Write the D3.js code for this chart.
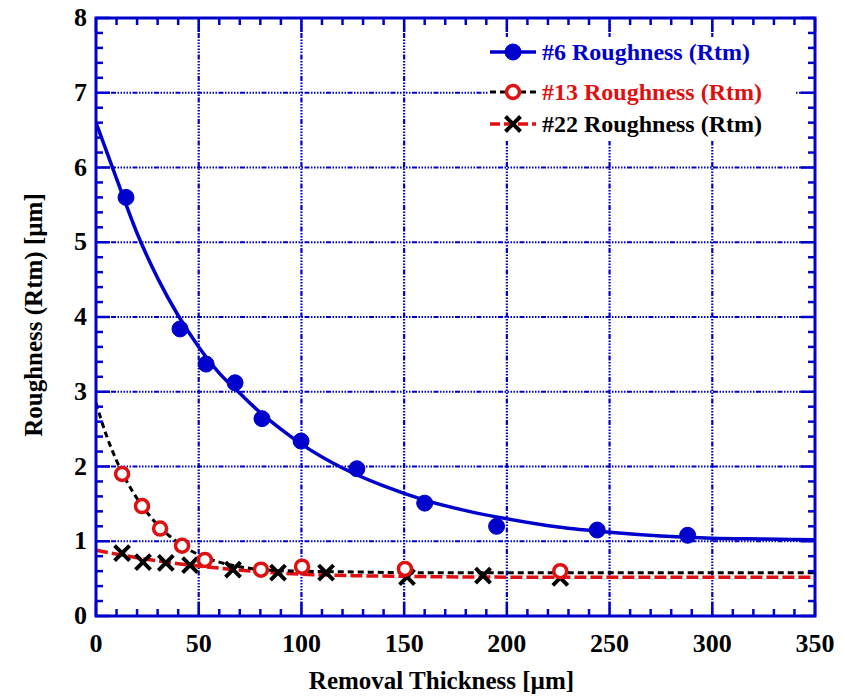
<!DOCTYPE html>
<html>
<head>
<meta charset="utf-8">
<script src="https://cdn.jsdelivr.net/npm/d3@7"></script>
<style>
  body { margin: 0; background: #fff; }
</style>
</head>
<body>
<svg id="chart" width="845" height="696"></svg>
<script>
// measured points
const s6X = [14.6, 40.9, 53.6, 67.7, 80.8, 99.8, 127, 160, 195, 244, 288];
const s6Y = [5.6, 3.84, 3.37, 3.12, 2.64, 2.34, 1.97, 1.51, 1.2, 1.15, 1.08];
const s13X = [12.7, 22.4, 31.2, 41.9, 53, 80.3, 100.3, 150.4, 226];
const s13Y = [1.9, 1.47, 1.17, 0.94, 0.75, 0.62, 0.66, 0.63, 0.6];
const s22X = [12.7, 22.9, 34, 45.8, 66.7, 88.6, 112, 151.4, 188.4, 226];
const s22Y = [0.84, 0.72, 0.71, 0.68, 0.62, 0.58, 0.58, 0.52, 0.54, 0.51];

// fitted curves
const fit6X = [0, 10, 20, 30, 40, 50, 60, 70, 80, 90, 100, 120, 140, 160, 180, 200, 225, 250, 275, 300, 325, 350];
const fit6Y = [6.6, 5.85, 5.12, 4.52, 4.02, 3.6, 3.25, 2.98, 2.72, 2.5, 2.3, 1.98, 1.74, 1.55, 1.41, 1.3, 1.19, 1.12, 1.07, 1.04, 1.03, 1.02];
const fit13X = [0, 5, 10, 15, 20, 25, 30, 35, 40, 45, 50, 60, 70, 80, 100, 125, 150, 200, 250, 300, 350];
const fit13Y = [2.85, 2.42, 2.08, 1.8, 1.57, 1.38, 1.22, 1.09, 0.98, 0.89, 0.82, 0.72, 0.66, 0.62, 0.6, 0.59, 0.58, 0.58, 0.58, 0.58, 0.58];
const fit22X = [0, 20, 40, 60, 80, 100, 125, 150, 200, 250, 300, 350];
const fit22Y = [0.88, 0.78, 0.7, 0.64, 0.59, 0.56, 0.54, 0.53, 0.52, 0.52, 0.52, 0.52];

const xTicks = [0, 50, 100, 150, 200, 250, 300, 350];
const yTicks = [0, 1, 2, 3, 4, 5, 6, 7, 8];
const legendNames = ["#6 Roughness (Rtm)", "#13 Roughness (Rtm)", "#22 Roughness (Rtm)"];

const BLUE = "#0000cc", RED = "#e01010", BLACK = "#000";
const FONT = "Liberation Serif";
const margin = { top: 18, right: 30, bottom: 80, left: 96 };
const width = 845 - margin.left - margin.right;
const height = 696 - margin.top - margin.bottom;

const svg = d3.select("#chart");
const g = svg.append("g").attr("transform", "translate(" + margin.left + "," + margin.top + ")");

const x = d3.scaleLinear().domain([0, 350]).range([0, width]);
const y = d3.scaleLinear().domain([0, 8]).range([height, 0]);

svg.append("defs").append("clipPath").attr("id", "clip")
  .append("rect").attr("width", width).attr("height", height);

// grid
const gridDash = "1.5,1.5,1.5,1.5,1.5,1.5,1.5,1.5,1.5,1.5,5,1.5";
g.append("g").selectAll("line").data(xTicks.slice(1, -1)).enter().append("line")
  .attr("x1", d => x(d)).attr("x2", d => x(d)).attr("y1", 0).attr("y2", height)
  .attr("stroke", BLUE).attr("stroke-width", 2.2).attr("stroke-dasharray", gridDash);
g.append("g").selectAll("line").data(yTicks.slice(1, -1)).enter().append("line")
  .attr("y1", d => y(d)).attr("y2", d => y(d)).attr("x1", 0).attr("x2", width)
  .attr("stroke", BLUE).attr("stroke-width", 2.2).attr("stroke-dasharray", gridDash);

// legend background covers the grid
g.append("rect").attr("x", 392).attr("y", 19).attr("width", 307).attr("height", 104).attr("fill", "#fff");

// fitted curves
const line = d3.line().x(d => x(d[0])).y(d => y(d[1])).curve(d3.curveMonotoneX);
const plot = g.append("g").attr("clip-path", "url(#clip)");
plot.append("path").datum(d3.zip(fit22X, fit22Y)).attr("d", line)
  .attr("fill", "none").attr("stroke", RED).attr("stroke-width", 3.5).attr("stroke-dasharray", "12,4");
plot.append("path").datum(d3.zip(fit13X, fit13Y)).attr("d", line)
  .attr("fill", "none").attr("stroke", BLACK).attr("stroke-width", 3).attr("stroke-dasharray", "6,4");
plot.append("path").datum(d3.zip(fit6X, fit6Y)).attr("d", line)
  .attr("fill", "none").attr("stroke", BLUE).attr("stroke-width", 3.5);

// markers
function drawCircle(sel, filled) {
  sel.append("circle").attr("r", filled ? 8 : 6.5)
    .attr("fill", filled ? BLUE : "#fff")
    .attr("stroke", filled ? BLUE : RED).attr("stroke-width", filled ? 1 : 3.5);
}
function drawCross(sel) {
  const s = 7.5;
  sel.append("path").attr("d", `M${-s},${-s}L${s},${s}M${-s},${s}L${s},${-s}`)
    .attr("stroke", BLACK).attr("stroke-width", 4);
}
g.append("g").selectAll("g").data(d3.zip(s22X, s22Y)).enter().append("g")
  .attr("transform", d => `translate(${x(d[0])},${y(d[1])})`).call(drawCross);
g.append("g").selectAll("g").data(d3.zip(s13X, s13Y)).enter().append("g")
  .attr("transform", d => `translate(${x(d[0])},${y(d[1])})`).call(s => drawCircle(s, false));
g.append("g").selectAll("g").data(d3.zip(s6X, s6Y)).enter().append("g")
  .attr("transform", d => `translate(${x(d[0])},${y(d[1])})`).call(s => drawCircle(s, true));

// frame and ticks on all sides
g.append("rect").attr("width", width).attr("height", height)
  .attr("fill", "none").attr("stroke", BLUE).attr("stroke-width", 3);

const xMinor = d3.range(0, 351, 10), yMinor = d3.range(0, 8.01, 0.2);
const tickG = g.append("g").attr("stroke", BLUE).attr("stroke-width", 2.5);
xMinor.forEach(v => {
  const len = v % 50 === 0 ? 14 : 7;
  tickG.append("line").attr("x1", x(v)).attr("x2", x(v)).attr("y1", height).attr("y2", height - len);
  tickG.append("line").attr("x1", x(v)).attr("x2", x(v)).attr("y1", 0).attr("y2", len);
});
yMinor.forEach(v => {
  const major = Math.abs(v - Math.round(v)) < 1e-6;
  const len = major ? 14 : 7;
  tickG.append("line").attr("y1", y(v)).attr("y2", y(v)).attr("x1", 0).attr("x2", len);
  tickG.append("line").attr("y1", y(v)).attr("y2", y(v)).attr("x1", width).attr("x2", width - len);
});

// tick labels
g.append("g").selectAll("text").data(xTicks).enter().append("text")
  .attr("x", d => x(d)).attr("y", height + 36).attr("text-anchor", "middle")
  .attr("font-family", FONT).attr("font-weight", "bold").attr("font-size", 26).text(d => d);
g.append("g").selectAll("text").data(yTicks).enter().append("text")
  .attr("x", -9).attr("y", d => y(d) + 8).attr("text-anchor", "end")
  .attr("font-family", FONT).attr("font-weight", "bold").attr("font-size", 26).text(d => d);

// axis titles
g.append("text").attr("x", width / 2 - 14).attr("y", height + 73).attr("text-anchor", "middle")
  .attr("font-family", FONT).attr("font-weight", "bold").attr("font-size", 25)
  .text("Removal Thickness [\u00b5m]");
g.append("text").attr("transform", "translate(-54," + (315 - margin.top) + ") rotate(-90)")
  .attr("text-anchor", "middle").attr("font-family", FONT).attr("font-weight", "bold").attr("font-size", 25)
  .text("Roughness (Rtm) [\u00b5m]");

// legend
const legY = [34, 74, 106];
const legColors = [BLUE, RED, BLACK];
const leg = g.append("g");
legendNames.forEach((name, i) => {
  const row = leg.append("g").attr("transform", "translate(394," + legY[i] + ")");
  if (i === 0) {
    row.append("line").attr("x1", 0).attr("x2", 46).attr("stroke", BLUE).attr("stroke-width", 3.5);
    row.append("g").attr("transform", "translate(23,0)").call(s => drawCircle(s, true));
  } else if (i === 1) {
    row.append("line").attr("x1", 0).attr("x2", 46).attr("stroke", BLACK).attr("stroke-width", 3).attr("stroke-dasharray", "6,4");
    row.append("g").attr("transform", "translate(23,0)").call(s => drawCircle(s, false));
  } else {
    row.append("line").attr("x1", 0).attr("x2", 46).attr("stroke", RED).attr("stroke-width", 3.5).attr("stroke-dasharray", "10,4");
    row.append("g").attr("transform", "translate(23,0)").call(drawCross);
  }
  row.append("text").attr("x", 52).attr("y", 8).attr("font-family", FONT).attr("font-weight", "bold")
    .attr("font-size", 24).attr("fill", legColors[i]).text(name);
});
</script>
</body>
</html>
